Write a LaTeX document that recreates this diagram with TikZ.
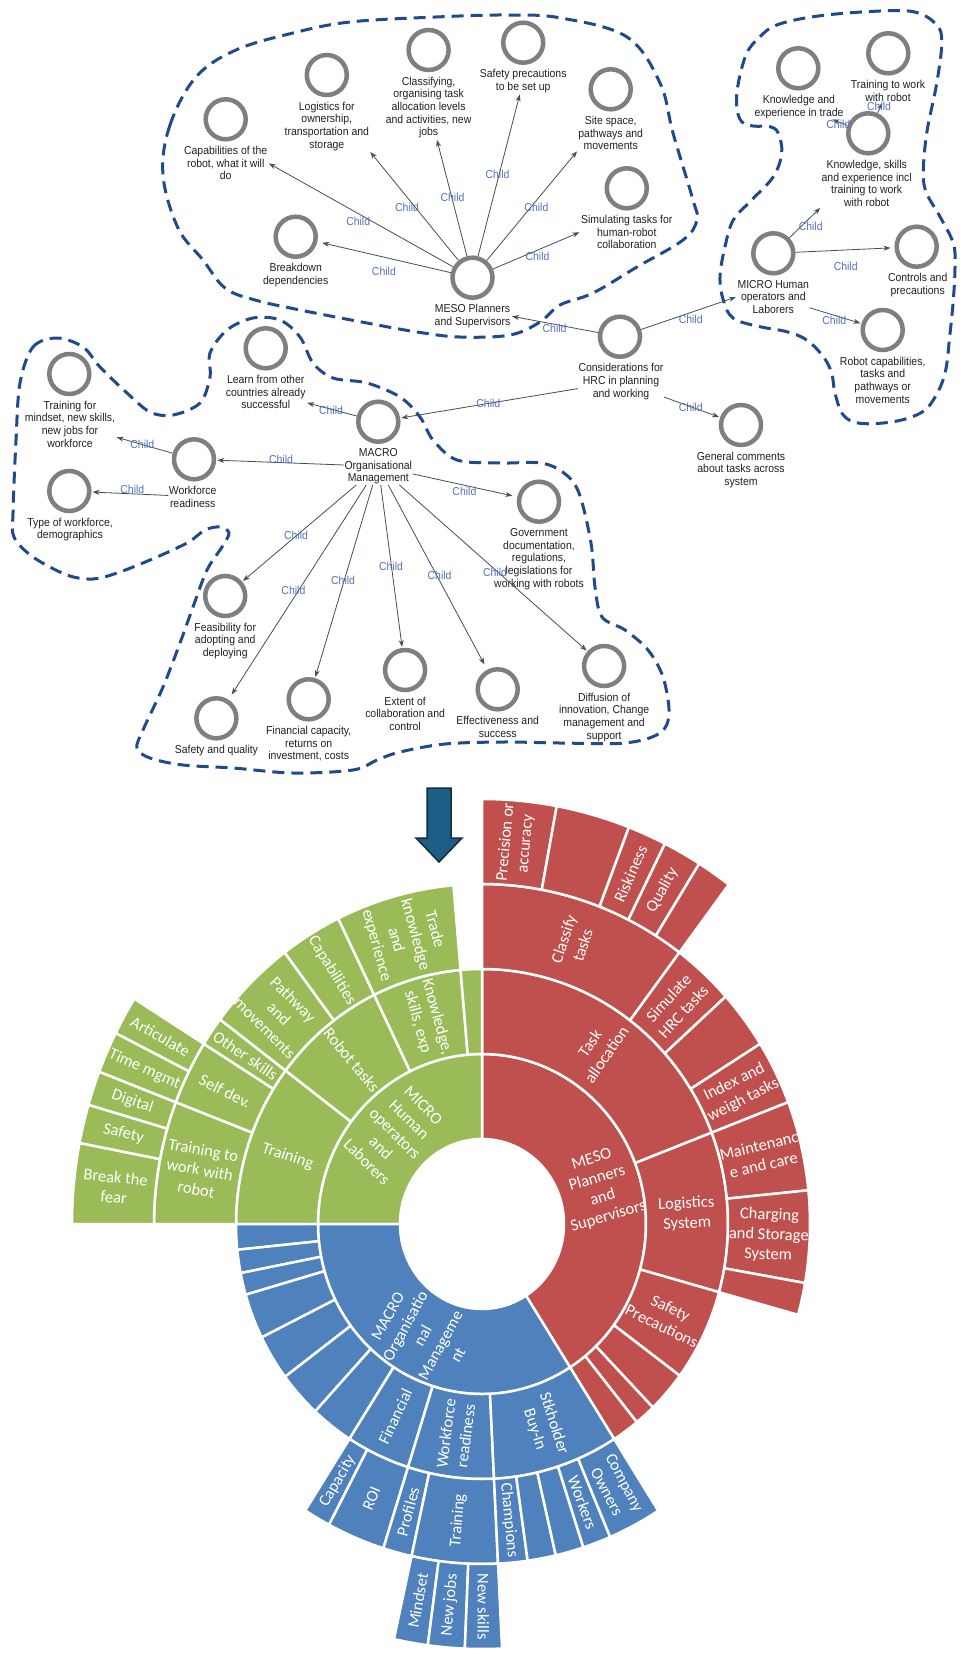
\documentclass[tikz,border=0pt]{standalone}
\usepackage{fontspec}
\setmainfont{Liberation Sans}
\newfontfamily\mmfont[FakeStretch=0.91]{Liberation Sans}
\newfontfamily\sbfont{Carlito}
\usetikzlibrary{arrows.meta}
\definecolor{sbred}{HTML}{C0504D}
\definecolor{sbgreen}{HTML}{9BBB59}
\definecolor{sbblue}{HTML}{4F81BD}
\definecolor{ringc}{HTML}{7F7F7F}
\definecolor{outl}{HTML}{1F4A8C}
\definecolor{childc}{HTML}{5470C0}
\definecolor{edgec}{HTML}{3E5252}
\definecolor{arrowfill}{HTML}{1E5E86}
\definecolor{arrowline}{HTML}{0F2D42}
\tikzset{
  concept/.style={circle, draw=ringc, line width=4.5pt, minimum size=40pt, inner sep=0pt},
  lbl/.style={font=\mmfont\fontsize{11.5}{12.7}\selectfont, align=center, inner sep=0.5pt, text=black!87, anchor=north},
  childlbl/.style={font=\mmfont\fontsize{11.5}{12.7}\selectfont, text=childc, inner sep=0pt},
  rel/.style={draw=edgec, line width=0.8pt, -{Stealth[length=7pt,width=5pt]}, shorten >=1pt},
  cluster/.style={draw=outl, line width=3pt, dash pattern=on 12pt off 7pt},
  sbtext/.style={font=\sbfont\fontsize{16.5}{20}\selectfont, text=white, align=center, inner sep=0pt},
}
\newcommand{\sbseg}[5]{%
  \filldraw[fill=#1, draw=white, line width=2.5pt, line join=round] (#2:#4) arc[start angle=#2, end angle=#3, radius=#4] -- (#3:#5) arc[start angle=#3, end angle=#2, radius=#5] -- cycle;}
\newcommand{\sblab}[5]{\node[sbtext, rotate=#4] (#1) at (#2:#3) {#5};}
\begin{document}
\begin{tikzpicture}[x=1pt, y=-1pt]
\fill[white] (0,0) rectangle (963,1654);
\useasboundingbox (0,0) rectangle (963,1654);

% ---------- cluster outlines ----------
\draw[cluster] plot[smooth cycle, tension=0.6] coordinates {
 (163,175) (170,125) (196,77) (236,50) (293,33) (350,22) (436,17) (507,15) (561,18)
 (627,37) (660,83) (673,133) (693,200) (697,220) (683,240) (637,267) (593,293)
 (560,305) (540,322) (510,335) (460,337) (417,332) (367,323) (300,310) (255,300)
 (225,288) (203,260) (178,228)};
\draw[cluster] plot[smooth cycle, tension=0.6] coordinates {
 (746.7,53.3) (760,36.7) (776.7,25) (813.3,16.7) (866.7,11.7) (913.3,11.7) (936.7,25)
 (941.7,43.3) (936.7,83.3) (926.7,133.3) (923.3,173.3) (926.7,193.3) (940,216.7)
 (953.3,243.3) (955,266.7) (953.3,300) (950,333.3) (945,373.3) (933.3,400) (920,413.3)
 (893.3,421.7) (860,423.3) (843.3,415) (835,393.3) (831.7,373.3) (823.3,356.7)
 (806.7,340) (786.7,331.7) (760,326.7) (733.3,318.3) (723.3,300) (720,276.7) (725,246.7)
 (733.3,220) (751.7,200) (773.3,176.7) (781.7,153.3) (778.3,133.3) (770,126.7)
 (753.3,126) (741.7,121.7) (736.7,106.7) (738.3,83.3)};
\draw[cluster] plot[smooth cycle, tension=0.55] coordinates {
 (20,383) (33,347) (57,338) (83,347) (100,367) (127,393) (150,412) (173,415) (200,403)
 (210,377) (210,353) (227,330) (253,318) (280,320) (300,337) (313,363) (333,378)
 (367,383) (400,397) (420,417) (433,440) (457,460) (500,463) (541,463) (564,473)
 (579,493) (591,543) (595,587) (602,617) (625,630) (648,650) (663,677) (669,713)
 (660,733) (625,743) (560,743) (503,742) (445,744) (400,752) (377,760) (353,770)
 (293,773) (233,768) (183,765) (150,758) (137,748) (143,730) (163,687) (180,643)
 (193,607) (207,570) (222,547) (229,533) (220,527) (205,530) (187,543) (150,560)
 (117,573) (93,579) (67,575) (33,557) (14,537) (13,513) (16,440)};

% ---------- concept nodes ----------
\node[concept] (meso) at (472.5,277.7) {};
\node[lbl] (meso-l) at (472.5,303.7) {MESO Planners\\and Supervisors};
\node[concept] (cap) at (225.7,119.3) {};
\node[lbl] (cap-l) at (225.7,145.3) {Capabilities of the\\robot, what it will\\do};
\node[concept] (log) at (326.8,75) {};
\node[lbl] (log-l) at (326.8,101) {Logistics for\\ownership,\\transportation and\\storage};
\node[concept] (cls) at (428.6,50) {};
\node[lbl] (cls-l) at (428.6,76) {Classifying,\\organising task\\allocation levels\\and activities, new\\jobs};
\node[concept] (saf) at (523.2,42.7) {};
\node[lbl] (saf-l) at (523.2,68.7) {Safety precautions\\to be set up};
\node[concept] (site) at (610.7,89.3) {};
\node[lbl] (site-l) at (610.7,115.3) {Site space,\\pathways and\\movements};
\node[concept] (sim) at (626.8,188.3) {};
\node[lbl] (sim-l) at (626.8,214.3) {Simulating tasks for\\human-robot\\collaboration};
\node[concept] (brk) at (295.7,236.7) {};
\node[lbl] (brk-l) at (295.7,262.7) {Breakdown\\dependencies};

\node[concept] (kexp) at (798.3,68.3) {};
\node[lbl] (kexp-l) at (799,94.3) {Knowledge and\\experience in trade};
\node[concept] (trw) at (888.3,53.3) {};
\node[lbl] (trw-l) at (888,79.3) {Training to work\\with robot};
\node[concept] (ksk) at (868.3,133.3) {};
\node[lbl] (ksk-l) at (866.7,159.3) {Knowledge, skills\\and experience incl\\training to work\\with robot};
\node[concept] (micro) at (773.3,253.3) {};
\node[lbl] (micro-l) at (773.3,279.3) {MICRO Human\\operators and\\Laborers};
\node[concept] (ctl) at (916.7,246.7) {};
\node[lbl] (ctl-l) at (917.7,272.7) {Controls and\\precautions};
\node[concept] (rcap) at (882.7,330) {};
\node[lbl] (rcap-l) at (882.7,356) {Robot capabilities,\\tasks and\\pathways or\\movements};
\node[concept] (cons) at (620,336.7) {};
\node[lbl] (cons-l) at (621,362.7) {Considerations for\\HRC in planning\\and working};
\node[concept] (gen) at (741,425) {};
\node[lbl] (gen-l) at (741,451) {General comments\\about tasks across\\system};

\node[concept] (learn) at (265.7,348.3) {};
\node[lbl] (learn-l) at (265.7,374.3) {Learn from other\\countries already\\successful};
\node[concept] (macro) at (378.3,421.7) {};
\node[lbl] (macro-l) at (378.3,447.7) {MACRO\\Organisational\\Management};
\node[concept] (tmind) at (69.3,374) {};
\node[lbl] (tmind-l) at (70,400) {Training for\\mindset, new skills,\\new jobs for\\workforce};
\node[concept] (wf) at (194,459.3) {};
\node[lbl] (wf-l) at (192.7,485.3) {Workforce\\readiness};
\node[concept] (type) at (69.3,491) {};
\node[lbl] (type-l) at (70,517) {Type of workforce,\\demographics};
\node[concept] (gov) at (539,501.7) {};
\node[lbl] (gov-l) at (539,527.7) {Government\\documentation,\\regulations,\\legislations for\\working with robots};
\node[concept] (feas) at (225.2,596) {};
\node[lbl] (feas-l) at (225.2,622) {Feasibility for\\adopting and\\deploying};
\node[concept] (sq) at (216.4,718.3) {};
\node[lbl] (sq-l) at (216.4,744.3) {Safety and quality};
\node[concept] (fin) at (308.7,699.3) {};
\node[lbl] (fin-l) at (308.7,725.3) {Financial capacity,\\returns on\\investment, costs};
\node[concept] (ext) at (405.1,670) {};
\node[lbl] (ext-l) at (405.1,696) {Extent of\\collaboration and\\control};
\node[concept] (eff) at (497.7,689.3) {};
\node[lbl] (eff-l) at (497.7,715.3) {Effectiveness and\\success};
\node[concept] (dif) at (604.1,666) {};
\node[lbl] (dif-l) at (604.1,692) {Diffusion of\\innovation, Change\\management and\\support};

% ---------- connectors ----------
\draw[rel] (meso) -- (cap-l.east);
\draw[rel] (meso) -- (log-l.south east);
\draw[rel] (meso) -- (cls-l);
\draw[rel] (meso) -- (saf-l);
\draw[rel] (meso) -- (site-l.south west);
\draw[rel] (meso) -- (sim-l.west);
\draw[rel, shorten >=5pt] (meso) -- (brk);
\draw[rel] (cons) -- (meso-l.east);
\draw[rel] (cons) -- (micro-l.west);
\draw[rel] (cons-l) -- (gen);
\draw[rel] (cons-l) -- (macro);
\draw[rel] (micro) -- (ksk-l.south west);
\draw[rel, shorten >=4pt] (micro) -- (ctl);
\draw[rel] (micro-l) -- (rcap);
\draw[rel] (ksk) -- (kexp-l);
\draw[rel] (ksk) -- (trw-l);
\draw[rel] (macro) -- (learn-l);
\draw[rel] (macro-l) -- (wf);
\draw[rel] (wf) -- (tmind-l);
\draw[rel] (wf-l) -- (type);
\draw[rel] (macro-l) -- (feas);
\draw[rel, shorten >=6pt] (macro-l) -- (sq);
\draw[rel] (macro-l) -- (fin);
\draw[rel] (macro-l) -- (ext);
\draw[rel, shorten >=6pt] (macro-l) -- (eff);
\draw[rel] (macro-l) -- (dif);
\draw[rel, shorten >=5pt] (macro-l) -- (gov);

% ---------- connector labels ----------
\node[childlbl] (c1) at (358.2,221.7) {Child};
\node[childlbl] (c2) at (407.1,207.3) {Child};
\node[childlbl] (c3) at (452.5,197.3) {Child};
\node[childlbl] (c4) at (497.5,174.3) {Child};
\node[childlbl] (c5) at (536.4,207.3) {Child};
\node[childlbl] (c6) at (537.5,256.7) {Child};
\node[childlbl] (c7) at (383.9,271.7) {Child};
\node[childlbl] (c8) at (554.6,328.3) {Child};
\node[childlbl] (c9) at (690.7,319) {Child};
\node[childlbl] (c10) at (690.7,407.3) {Child};
\node[childlbl] (c11) at (488.3,403.3) {Child};
\node[childlbl] (c12) at (810.7,226.7) {Child};
\node[childlbl] (c13) at (845.7,266.7) {Child};
\node[childlbl] (c14) at (834.3,320) {Child};
\node[childlbl] (c15) at (838.3,124) {Child};
\node[childlbl] (c16) at (879,106) {Child};
\node[childlbl] (c17) at (331,410) {Child};
\node[childlbl] (c18) at (281,459.3) {Child};
\node[childlbl] (c19) at (142.3,444) {Child};
\node[childlbl] (c20) at (132.3,489) {Child};
\node[childlbl] (c21) at (296,535) {Child};
\node[childlbl] (c22) at (293.4,590) {Child};
\node[childlbl] (c23) at (343.1,580) {Child};
\node[childlbl] (c24) at (391,566) {Child};
\node[childlbl] (c25) at (439.6,575) {Child};
\node[childlbl] (c26) at (495,572.7) {Child};
\node[childlbl] (c27) at (464.4,491) {Child};

% ---------- block arrow ----------
\draw[fill=arrowfill, draw=arrowline, line width=1.5pt, line join=miter]
  (427,788) -- (451,788) -- (451,838) -- (462,838) -- (439,862) -- (416,838) -- (427,838) -- cycle;

% ---------- sunburst ----------
\begin{scope}[shift={(482,1224)}, x=82pt, y=85pt]
% red
\sbseg{sbred}{90}{-57.5}{1}{2}
\sbseg{sbred}{90}{21}{2}{3}
\sbseg{sbred}{21}{-15.5}{2}{3}
\sbseg{sbred}{-15.5}{-36.5}{2}{3}
\sbseg{sbred}{-36.5}{-46}{2}{3}
\sbseg{sbred}{-46}{-51}{2}{3}
\sbseg{sbred}{-51}{-57.5}{2}{3}
\sbseg{sbred}{90}{53}{3}{4}
\sbseg{sbred}{53}{42}{3}{4}
\sbseg{sbred}{42}{32}{3}{4}
\sbseg{sbred}{32}{21}{3}{4}
\sbseg{sbred}{21}{5.7}{3}{4}
\sbseg{sbred}{5.7}{-10}{3}{4}
\sbseg{sbred}{-10}{-15.5}{3}{4}
\sbseg{sbred}{90}{79.5}{4}{5}
\sbseg{sbred}{79.5}{69}{4}{5}
\sbseg{sbred}{69}{63.5}{4}{5}
\sbseg{sbred}{63.5}{58}{4}{5}
\sbseg{sbred}{58}{53}{4}{5}
% green
\sbseg{sbgreen}{90}{180}{1}{2}
\sbseg{sbgreen}{180}{143}{2}{3}
\sbseg{sbgreen}{143}{116}{2}{3}
\sbseg{sbgreen}{116}{95}{2}{3}
\sbseg{sbgreen}{95}{90}{2}{3}
\sbseg{sbgreen}{180}{159}{3}{4}
\sbseg{sbgreen}{159}{148}{3}{4}
\sbseg{sbgreen}{148}{143}{3}{4}
\sbseg{sbgreen}{143}{127}{3}{4}
\sbseg{sbgreen}{127}{116}{3}{4}
\sbseg{sbgreen}{116}{95}{3}{4}
\sbseg{sbgreen}{180}{169}{4}{5}
\sbseg{sbgreen}{169}{163.7}{4}{5}
\sbseg{sbgreen}{163.7}{159}{4}{5}
\sbseg{sbgreen}{159}{153.3}{4}{5}
\sbseg{sbgreen}{153.3}{148}{4}{5}
% blue
\sbseg{sbblue}{180}{302.5}{1}{2}
\sbseg{sbblue}{180}{185.8}{2}{3}
\sbseg{sbblue}{185.8}{191.1}{2}{3}
\sbseg{sbblue}{191.1}{196.1}{2}{3}
\sbseg{sbblue}{196.1}{206.4}{2}{3}
\sbseg{sbblue}{206.4}{216.8}{2}{3}
\sbseg{sbblue}{216.8}{227.3}{2}{3}
\sbseg{sbblue}{227.3}{237.4}{2}{3}
\sbseg{sbblue}{237.4}{252.5}{2}{3}
\sbseg{sbblue}{252.5}{272.8}{2}{3}
\sbseg{sbblue}{272.8}{302.5}{2}{3}
\sbseg{sbblue}{237.4}{242.2}{3}{4}
\sbseg{sbblue}{242.2}{252.5}{3}{4}
\sbseg{sbblue}{252.5}{257.6}{3}{4}
\sbseg{sbblue}{257.6}{272.8}{3}{4}
\sbseg{sbblue}{272.8}{278}{3}{4}
\sbseg{sbblue}{278}{283}{3}{4}
\sbseg{sbblue}{283}{288}{3}{4}
\sbseg{sbblue}{288}{293}{3}{4}
\sbseg{sbblue}{293}{302.5}{3}{4}
\sbseg{sbblue}{257.6}{262.4}{4}{5}
\sbseg{sbblue}{262.4}{267.6}{4}{5}
\sbseg{sbblue}{267.6}{272.8}{4}{5}
% labels red
\sblab{t-meso}{16.25}{1.5}{16.25}{MESO\\Planners\\and\\Supervisors}
\sblab{t-task}{55.5}{2.5}{55.5}{Task\\allocation}
\sblab{t-logi}{2.75}{2.5}{2.75}{Logistics\\System}
\sblab{t-safe}{-26}{2.5}{-26}{Safety\\Precautions}
\sblab{t-clas}{71.5}{3.5}{71.5}{Classify\\tasks}
\sblab{t-simu}{47.5}{3.5}{47.5}{Simulate\\HRC tasks}
\sblab{t-inde}{26.5}{3.5}{26.5}{Index and\\weigh tasks}
\sblab{t-main}{13.35}{3.5}{13.35}{Maintenanc\\e and care}
\sblab{t-char}{-2.15}{3.5}{-2.15}{Charging\\and Storage\\System}
\sblab{t-prec}{84.75}{4.5}{84.75}{Precision or\\accuracy}
\sblab{t-risk}{66.25}{4.5}{66.25}{Riskiness}
\sblab{t-qual}{60.75}{4.5}{60.75}{Quality}
% labels green
\sblab{t-micro}{135}{1.5}{-45}{MICRO\\Human\\operators\\and\\Laborers}
\sblab{t-trai}{161.5}{2.5}{-18.5}{Training}
\sblab{t-robo}{129.5}{2.5}{-50.5}{Robot tasks}
\sblab{t-know}{105.5}{2.5}{-74.5}{Knowledge,\\skills, exp}
\sblab{t-ttw}{169.5}{3.5}{-10.5}{Training to\\work with\\robot}
\sblab{t-self}{153.5}{3.5}{-26.5}{Self dev.}
\sblab{t-othe}{145.5}{3.5}{-34.5}{Other skills}
\sblab{t-path}{135}{3.5}{-45}{Pathway\\and\\movements}
\sblab{t-capa}{121.5}{3.5}{-58.5}{Capabilities}
\sblab{t-trad}{105.5}{3.5}{-74.5}{Trade\\knowledge\\and\\experience}
\sblab{t-brea}{174.5}{4.5}{-5.5}{Break the\\fear}
\sblab{t-safg}{166.35}{4.5}{-13.65}{Safety}
\sblab{t-digi}{161.35}{4.5}{-18.65}{Digital}
\sblab{t-time}{156.15}{4.5}{-23.85}{Time mgmt}
\sblab{t-arti}{150.65}{4.5}{-29.35}{Articulate}
% labels blue
\sblab{t-macro}{241.25}{1.5}{61.25}{MACRO\\Organisatio\\nal\\Manageme\\nt}
\sblab{t-fina}{244.95}{2.5}{64.95}{Financial}
\sblab{t-work}{262.65}{2.5}{82.65}{Workforce\\readiness}
\sblab{t-stkh}{287.65}{2.5}{-72.35}{Stkholder\\Buy-In}
\sblab{t-capc}{239.8}{3.5}{59.8}{Capacity}
\sblab{t-roi}{247.35}{3.5}{67.35}{ROI}
\sblab{t-prof}{255.05}{3.5}{75.05}{Profiles}
\sblab{t-trab}{265.2}{3.5}{85.2}{Training}
\sblab{t-cham}{275.4}{3.5}{-84.6}{Champions}
\sblab{t-wrks}{290.5}{3.5}{-69.5}{Workers}
\sblab{t-comp}{297.75}{3.5}{-62.25}{Company\\Owners}
\sblab{t-mind}{260}{4.5}{80}{Mindset}
\sblab{t-newj}{265}{4.5}{85}{New jobs}
\sblab{t-news}{270.2}{4.5}{-89.8}{New skills}
\end{scope}
\end{tikzpicture}
\end{document}
